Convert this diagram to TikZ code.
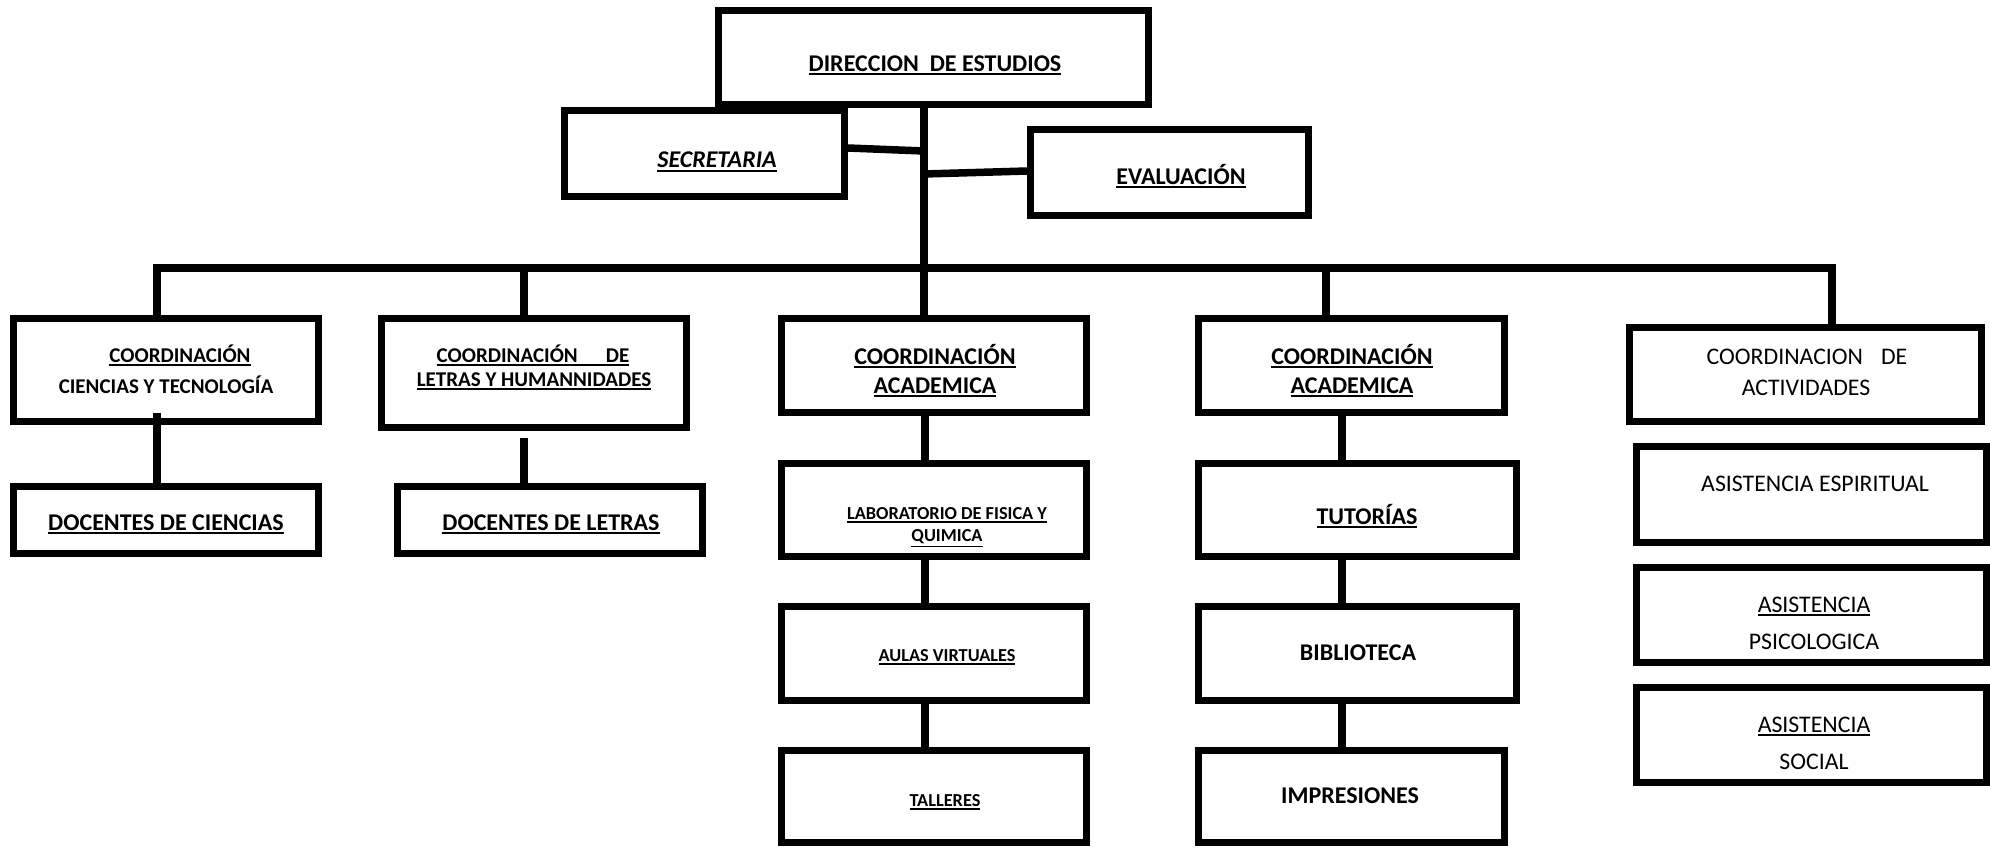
\documentclass[tikz,border=0pt]{standalone}
\usepackage{fontspec}
\setmainfont{Carlito}
\newcommand{\uln}[1]{\vtop{\hbox{#1}\kern2.2pt\hrule height 1.8pt}}
\begin{document}
\begin{tikzpicture}[x=1pt,y=-1pt,
  box/.style={draw, line width=7pt, inner sep=0pt},
  conn/.style={line width=7.5pt, line join=miter},
  lbl/.style={inner sep=0pt, anchor=base},
  bigb/.style={lbl, font=\fontsize{24}{28}\selectfont\bfseries},
  midb/.style={lbl, font=\fontsize{21}{25}\selectfont\bfseries},
  smlb/.style={lbl, font=\fontsize{18.3}{21}\selectfont\bfseries},
  reg/.style={lbl, font=\fontsize{23.8}{27}\selectfont}]
\useasboundingbox (0,0) rectangle (1990,847);
% ---------- boxes
\node[box, minimum width=430pt, minimum height=94pt] (dir) at (933.5,57.5) {};
\node[box, minimum width=280pt, minimum height=86pt] (sec) at (704.5,153.5) {};
\node[box, minimum width=278pt, minimum height=86pt] (eva) at (1169.5,172.5) {};
\node[box, minimum width=305pt, minimum height=103pt] (cien) at (166,370) {};
\node[box, minimum width=305pt, minimum height=109pt] (let) at (534,373) {};
\node[box, minimum width=305pt, minimum height=94pt] (ca1) at (934,365.5) {};
\node[box, minimum width=306pt, minimum height=94pt] (ca2) at (1351.5,365.5) {};
\node[box, minimum width=352pt, minimum height=94pt] (act) at (1805.5,374.5) {};
\node[box, minimum width=305pt, minimum height=67pt] (docC) at (166,520) {};
\node[box, minimum width=305pt, minimum height=67pt] (docL) at (550,520) {};
\node[box, minimum width=305pt, minimum height=93pt] (lab) at (934,510) {};
\node[box, minimum width=305pt, minimum height=94pt] (aul) at (934,653.5) {};
\node[box, minimum width=305pt, minimum height=92pt] (tal) at (934,796.5) {};
\node[box, minimum width=318pt, minimum height=93pt] (tut) at (1357.5,510) {};
\node[box, minimum width=318pt, minimum height=94pt] (bib) at (1357.5,653.5) {};
\node[box, minimum width=306pt, minimum height=92pt] (imp) at (1351.5,796.5) {};
\node[box, minimum width=350pt, minimum height=96pt] (esp) at (1811.5,494.5) {};
\node[box, minimum width=350pt, minimum height=95pt] (psi) at (1811.5,615) {};
\node[box, minimum width=350pt, minimum height=95pt] (soc) at (1811.5,735) {};
% ---------- connector points
\coordinate (b1) at (157,268);
\coordinate (b2) at (524,268);
\coordinate (sp) at (924,268);
\coordinate (b4) at (1326,268);
\coordinate (b5) at (1832,268);
\coordinate (secE) at (848,148);
\coordinate (secJ) at (924,151);
\coordinate (evaJ) at (924,174);
\coordinate (evaW) at (1027,171);
\coordinate (cd) at (157,413);
\coordinate (ld) at (524,438);
\coordinate (c1) at (925,0);
\coordinate (c2) at (1342,0);
% ---------- connectors
\draw[conn] (dir.south -| sp) -- (ca1.north -| sp);
\draw[conn] (sec.east |- secE) -- (secJ);
\draw[conn] (evaJ) -- (eva.west |- evaW);
\draw[conn] (cien.north -| b1) -- (b1) -- (b5) -- (act.north -| b5);
\draw[conn] (b2) -- (let.north -| b2);
\draw[conn] (b4) -- (ca2.north -| b4);
\draw[conn] (cd) -- (docC.north -| cd);
\draw[conn] (ld) -- (docL.north -| ld);
\draw[conn] (ca1.south -| c1) -- (lab.north -| c1);
\draw[conn] (lab.south -| c1) -- (aul.north -| c1);
\draw[conn] (aul.south -| c1) -- (tal.north -| c1);
\draw[conn] (ca2.south -| c2) -- (tut.north -| c2);
\draw[conn] (tut.south -| c2) -- (bib.north -| c2);
\draw[conn] (bib.south -| c2) -- (imp.north -| c2);
% ---------- texts
\node[bigb] (dirT) at (935,71) {\uln{DIRECCION\ \ DE ESTUDIOS}};
\node[bigb, font=\fontsize{24}{28}\selectfont\bfseries\itshape] (secT) at (717,167.5) {\uln{SECRETARIA}};
\node[bigb] (evaT) at (1181,184) {\uln{EVALUACIÓN}};
\node[midb] (cienT1) at (180,362) {\uln{COORDINACIÓN}};
\node[midb] (cienT2) at (166,393) {CIENCIAS Y TECNOLOGÍA};
\node[midb] (letT1) at (533,362) {\uln{COORDINACIÓN\hspace{28pt}DE}};
\node[midb] (letT2) at (534,386) {\uln{LETRAS Y HUMANNIDADES}};
\node[bigb] (ca1T1) at (935,364) {\uln{COORDINACIÓN}};
\node[bigb] (ca1T2) at (935,393) {\uln{ACADEMICA}};
\node[bigb] (ca2T1) at (1352,364) {\uln{COORDINACIÓN}};
\node[bigb] (ca2T2) at (1352,393) {\uln{ACADEMICA}};
\node[reg] (actT1) at (1807,364) {COORDINACION\hspace{18pt}DE};
\node[reg] (actT2) at (1806,395) {ACTIVIDADES};
\node[bigb] (docCT) at (166,530) {\uln{DOCENTES DE CIENCIAS}};
\node[bigb] (docLT) at (551,530) {\uln{DOCENTES DE LETRAS}};
\node[smlb] (labT1) at (947,519) {\uln{LABORATORIO DE FISICA Y}};
\node[smlb] (labT2) at (947,541) {\uln{QUIMICA}};
\node[smlb] (aulT) at (947,661) {\uln{AULAS VIRTUALES}};
\node[smlb] (talT) at (945,806) {\uln{TALLERES}};
\node[bigb] (tutT) at (1367,524) {\uln{TUTORÍAS}};
\node[bigb] (bibT) at (1358,660) {BIBLIOTECA};
\node[bigb] (impT) at (1350,803) {IMPRESIONES};
\node[reg] (espT) at (1815,491) {ASISTENCIA ESPIRITUAL};
\node[reg] (psiT1) at (1814,612) {\uln{ASISTENCIA}};
\node[reg] (psiT2) at (1814,649) {PSICOLOGICA};
\node[reg] (socT1) at (1814,732) {\uln{ASISTENCIA}};
\node[reg] (socT2) at (1814,769) {SOCIAL};
\end{tikzpicture}
\end{document}
